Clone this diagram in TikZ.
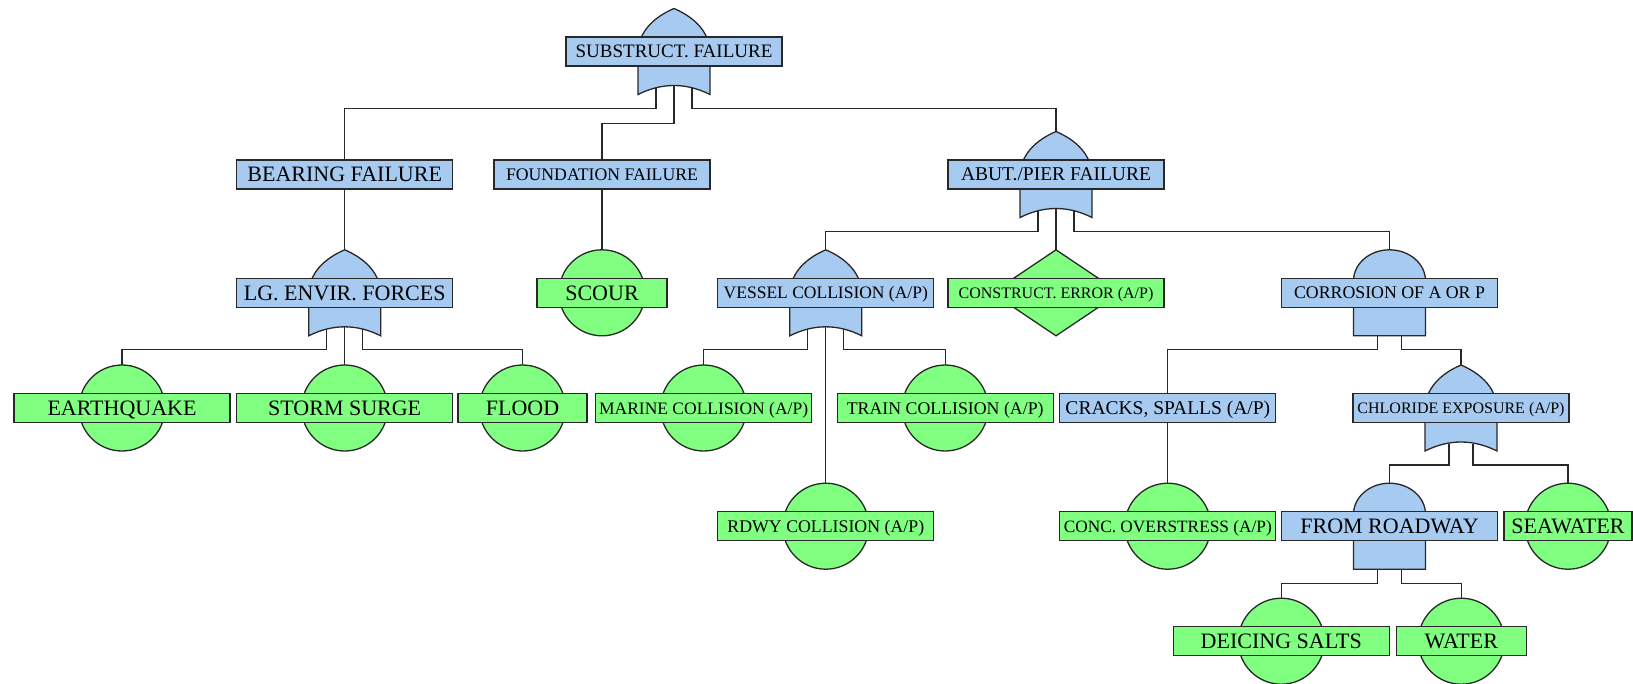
\documentclass[tikz,border=0pt]{standalone}
\usepackage{fontspec}
\setmainfont{Liberation Serif}
\usetikzlibrary{calc}
\pgfdeclarelayer{bg}
\pgfdeclarelayer{conn}
\pgfdeclarelayer{sym}
\pgfsetlayers{bg,conn,sym,main}
\definecolor{evblue}{RGB}{166,202,240}
\definecolor{evgreen}{RGB}{128,255,128}
\definecolor{ink}{RGB}{40,40,40}
\newcommand\fs[1]{\fontsize{#1}{#1}\selectfont}

\tikzset{
  lbl/.style={draw=ink, line width=1.3pt, inner sep=0pt, minimum width=216pt,
    minimum height=29pt, text depth=0pt, font=\fs{22}},
  mid/.style={lbl, fill=evblue},
  leaf/.style={lbl, fill=evgreen},
  narrow/.style={minimum width=#1pt},
  symb/.style={draw=ink, line width=1.3pt},
  wire/.style={draw=ink, line width=1.3pt},
}

% OR gate behind a label box; outputs o1..o3 (three inputs) or l/r (two)
\newcommand\orgate[1]{%
  \begin{pgfonlayer}{sym}
  \begin{scope}[shift={(#1.center)}]
    \filldraw[symb, fill=evblue] (-36,43) -- (-36,2)
      .. controls (-36,-19) and (-21,-34) .. (0,-43)
      .. controls (21,-34) and (36,-19) .. (36,2) -- (36,43)
      .. controls (12,31) and (-12,31) .. cycle;
  \end{scope}
  \end{pgfonlayer}
  \path (#1.center) ++(0,-43) coordinate (#1-in) ++(0,100) coordinate (#1-bus);
  \path (#1.center) ++(-18,36) coordinate (#1-o1) ++(18,-2) coordinate (#1-o2)
        ++(18,2) coordinate (#1-o3);
  \path (#1.center) ++(-12,36) coordinate (#1-l) ++(24,0) coordinate (#1-r);
}
% AND gate behind a label box
\newcommand\andgate[1]{%
  \begin{pgfonlayer}{sym}
  \begin{scope}[shift={(#1.center)}]
    \filldraw[symb, fill=evblue] (-36,43) -- (-36,-12)
      arc[start angle=180, end angle=360, x radius=36, y radius=31]
      -- (36,43) -- cycle;
  \end{scope}
  \end{pgfonlayer}
  \path (#1.center) ++(0,-43) coordinate (#1-in) ++(0,100) coordinate (#1-bus);
  \path (#1.center) ++(-12,43) coordinate (#1-l) ++(24,0) coordinate (#1-r);
}
% basic event circle
\newcommand\basic[1]{%
  \begin{pgfonlayer}{sym}
    \filldraw[symb, fill=evgreen] (#1.center) circle[radius=43];
  \end{pgfonlayer}
  \path (#1.center) ++(0,-43) coordinate (#1-in);
}
% undeveloped event diamond
\newcommand\undev[1]{%
  \begin{pgfonlayer}{sym}
    \filldraw[symb, fill=evgreen] (#1.center) ++(0,-43) -- ++(64,43) -- ++(-64,43)
      -- ++(-64,-43) -- cycle;
  \end{pgfonlayer}
  \path (#1.center) ++(0,-43) coordinate (#1-in);
}

\begin{document}
\begin{tikzpicture}[x=1pt, y=-1pt]
\begin{pgfonlayer}{bg}
  \fill[white] (0,0) rectangle (1633,683);
\end{pgfonlayer}
\useasboundingbox (0,0) rectangle (1633,683);

% row 1
\node[mid, font=\fs{19}] (sub) at (674,51.5) {SUBSTRUCT. FAILURE};
% row 2
\node[mid] (bear) at (344.7,174.5) {BEARING FAILURE};
\node[mid, font=\fs{17.7}] (found) at (602,174.5) {FOUNDATION FAILURE};
\node[mid, font=\fs{19.5}] (abut) at (1056,174.5) {ABUT./PIER FAILURE};
% row 3
\node[mid] (lg) at (344.7,292.8) {LG. ENVIR. FORCES};
\node[leaf, narrow=130] (scour) at (602,292.8) {SCOUR};
\node[mid, font=\fs{17.5}] (vessel) at (825.8,292.8) {VESSEL COLLISION (A/P)};
\node[leaf, font=\fs{16}] (constr) at (1056,292.8) {CONSTRUCT. ERROR (A/P)};
\node[mid, font=\fs{17.8}] (corr) at (1389.5,292.8) {CORROSION OF A OR P};
% row 4
\node[leaf] (quake) at (122,408) {EARTHQUAKE};
\node[leaf] (storm) at (344.7,408) {STORM SURGE};
\node[leaf, narrow=129] (flood) at (522.5,408) {FLOOD};
\node[leaf, font=\fs{17.5}] (marine) at (703.6,408) {MARINE COLLISION (A/P)};
\node[leaf, font=\fs{17.8}] (train) at (945.2,408) {TRAIN COLLISION (A/P)};
\node[mid, font=\fs{19.5}] (cracks) at (1167.8,408) {CRACKS, SPALLS (A/P)};
\node[mid, font=\fs{16}] (chlor) at (1461,408) {CHLORIDE EXPOSURE (A/P)};
% row 5
\node[leaf, font=\fs{17.8}] (rdwy) at (825.8,526.2) {RDWY COLLISION (A/P)};
\node[leaf, font=\fs{17.3}] (conc) at (1167.8,526.2) {CONC. OVERSTRESS (A/P)};
\node[mid] (road) at (1389.5,526.2) {FROM ROADWAY};
\node[leaf, narrow=128] (sea) at (1568,526.2) {SEAWATER};
% row 6
\node[leaf] (salts) at (1281.3,641.2) {DEICING SALTS};
\node[leaf, narrow=130] (water) at (1461.3,641.2) {WATER};

% gate and event symbols
\orgate{sub}
\orgate{abut}
\orgate{lg}
\orgate{vessel}
\orgate{chlor}
\andgate{corr}
\andgate{road}
\basic{scour}
\basic{quake}
\basic{storm}
\basic{flood}
\basic{marine}
\basic{train}
\basic{rdwy}
\basic{conc}
\basic{sea}
\basic{salts}
\basic{water}
\undev{constr}
\path (sub.center) ++(0,72) coordinate (sub-bus2);

% connectors
\begin{pgfonlayer}{conn}
\draw[wire] (sub-o1) -- (sub-o1 |- sub-bus) -- (bear.north |- sub-bus) -- (bear.north);
\draw[wire] (sub-o2) -- (sub-o2 |- sub-bus2) -- (found.north |- sub-bus2) -- (found.north);
\draw[wire] (sub-o3) -- (sub-o3 |- sub-bus) -- (abut-in |- sub-bus) -- (abut-in);
\draw[wire] (bear.south) -- (lg-in);
\draw[wire] (found.south) -- (scour-in);
\draw[wire] (abut-o1) -- (abut-o1 |- abut-bus) -- (vessel-in |- abut-bus) -- (vessel-in);
\draw[wire] (abut-o2) -- (constr-in);
\draw[wire] (abut-o3) -- (abut-o3 |- abut-bus) -- (corr-in |- abut-bus) -- (corr-in);
\draw[wire] (lg-o1) -- (lg-o1 |- lg-bus) -- (quake-in |- lg-bus) -- (quake-in);
\draw[wire] (lg-o2) -- (storm-in);
\draw[wire] (lg-o3) -- (lg-o3 |- lg-bus) -- (flood-in |- lg-bus) -- (flood-in);
\draw[wire] (vessel-o1) -- (vessel-o1 |- vessel-bus) -- (marine-in |- vessel-bus) -- (marine-in);
\draw[wire] (vessel-o2) -- (rdwy-in);
\draw[wire] (vessel-o3) -- (vessel-o3 |- vessel-bus) -- (train-in |- vessel-bus) -- (train-in);
\draw[wire] (corr-l) -- (corr-l |- corr-bus) -- (cracks.north |- corr-bus) -- (cracks.north);
\draw[wire] (corr-r) -- (corr-r |- corr-bus) -- (chlor-in |- corr-bus) -- (chlor-in);
\draw[wire] (cracks.south) -- (conc-in);
\draw[wire] (chlor-l) -- (chlor-l |- chlor-bus) -- (road-in |- chlor-bus) -- (road-in);
\draw[wire] (chlor-r) -- (chlor-r |- chlor-bus) -- (sea-in |- chlor-bus) -- (sea-in);
\draw[wire] (road-l) -- (road-l |- road-bus) -- (salts-in |- road-bus) -- (salts-in);
\draw[wire] (road-r) -- (road-r |- road-bus) -- (water-in |- road-bus) -- (water-in);
\end{pgfonlayer}
\end{tikzpicture}
\end{document}
